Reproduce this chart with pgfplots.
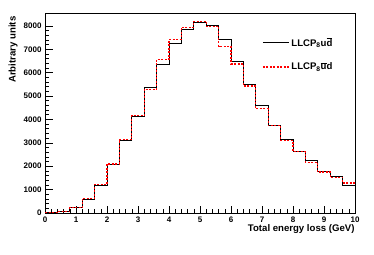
\documentclass[border=0pt]{standalone}
\usepackage{pgfplots}
\pgfplotsset{compat=1.18}
\usepackage{fontspec}
\setmainfont{Liberation Sans}
\begin{document}
\begin{tikzpicture}
\path (-45pt,-41pt) rectangle (329pt,213pt);
\begin{axis}[
  at={(0pt,0pt)}, anchor=south west,
  scale only axis, width=310pt, height=200pt,
  xmin=0, xmax=10, ymin=0, ymax=8550,
  xtick={0,1,...,10}, ytick={0,1000,...,8000},
  minor x tick num=4, minor y tick num=4,
  tick pos=left, tick align=inside,
  tick style={black, line width=0.6pt},
  major tick length=7.5pt, minor tick length=3.8pt,
  axis line style={black, line width=0.8pt},
  /pgf/number format/assume math mode=true,
  scaled y ticks=false,
  yticklabel style={/pgf/number format/fixed, /pgf/number format/1000 sep={}},
  ticklabel style={font=\bfseries\fontsize{8}{9}\selectfont},
  xlabel={Total energy loss (GeV)},
  ylabel={Arbitrary units},
  label style={font=\bfseries\fontsize{9.6}{11}\selectfont},
  xlabel style={at={(axis description cs:1,-0.08)}, anchor=east, xshift=3pt},
  ylabel style={at={(axis description cs:-0.103,1)}, anchor=east},
  legend style={draw=none, fill=none, at={(rel axis cs:0.69,0.90)}, anchor=north west,
    font=\bfseries\fontsize{9.6}{11}\selectfont, row sep=11pt},
  legend cell align=left,
  legend image code/.code={\draw[#1] (0pt,0pt) -- (26pt,0pt);},
]
\addplot[const plot, black, line width=0.8pt] coordinates {
(0,20) (0.4,60) (0.8,250) (1.2,570) (1.6,1200) (2.0,2060) (2.4,3100) (2.8,4120)
(3.2,5360) (3.6,6370) (4.0,7250) (4.4,7840) (4.8,8150) (5.2,8000) (5.6,7420)
(6.0,6490) (6.4,5500) (6.8,4580) (7.2,3760) (7.6,3140) (8.0,2630) (8.4,2270)
(8.8,1770) (9.2,1560) (9.6,1160) (10,1160)};
\addlegendentry{LLCP\textsubscript{8}u$\overline{\mbox{d}}$}
\addplot[const plot, red, line width=1.3pt, dash pattern=on 2pt off 1.5pt] coordinates {
(0,20) (0.4,60) (0.8,230) (1.2,620) (1.6,1220) (2.0,2100) (2.4,3130) (2.8,4160)
(3.2,5290) (3.6,6570) (4.0,7430) (4.4,7930) (4.8,8200) (5.2,7980) (5.6,7110)
(6.0,6370) (6.4,5430) (6.8,4460) (7.2,3740) (7.6,3100) (8.0,2620) (8.4,2170)
(8.8,1750) (9.2,1530) (9.6,1280) (10,1280)};
\addlegendentry{LLCP\textsubscript{8}$\overline{\mbox{u}}$d}
\end{axis}
\end{tikzpicture}
\end{document}
